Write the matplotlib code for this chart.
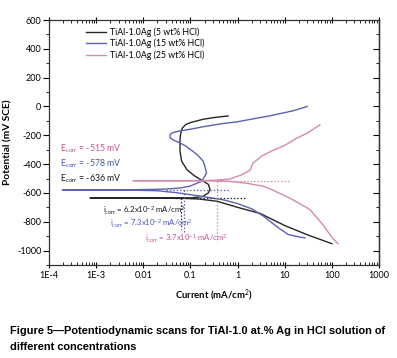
import matplotlib
matplotlib.use("Agg")
import matplotlib.pyplot as plt
from matplotlib.ticker import LogLocator, MultipleLocator, FixedLocator, NullFormatter

# ---------------- data (current mA/cm2, potential mV SCE) ----------------
labels = ["TiAl-1.0Ag (5 wt% HCl)", "TiAl-1.0Ag (15 wt% HCl)", "TiAl-1.0Ag (25 wt% HCl)"]

i_5 = [100, 30, 10, 3.0, 1.0, 0.37, 0.15, 0.08, 0.03, 7.4e-4,
       0.03, 0.1, 0.18, 0.24, 0.26, 0.24, 0.17, 0.12, 0.085, 0.065,
       0.06, 0.06, 0.062, 0.067, 0.08, 0.1, 0.19, 0.35, 0.63]
e_5 = [-952, -890, -826, -742, -700, -658, -642, -638, -637, -636,
       -636, -635, -625, -600, -575, -540, -510, -480, -440, -380,
       -309, -230, -190, -150, -125, -112, -88, -75, -66]

i_15 = [27, 20, 12, 7.7, 5, 3.6, 2, 0.96, 0.5, 0.23, 0.1, 0.05, 0.02, 0.005, 1.9e-4,
        0.005, 0.0265, 0.06, 0.098, 0.175, 0.22, 0.2, 0.186, 0.14, 0.11, 0.08, 0.06,
        0.045, 0.037, 0.037, 0.041, 0.06, 0.1, 0.19, 0.5, 1, 5, 15, 30]
e_15 = [-912, -905, -889, -847, -800, -763, -710, -672, -648, -630, -612, -598, -585, -580, -578,
        -578, -574, -566, -553, -518, -462, -410, -379, -335, -309, -275, -253,
        -235, -218, -195, -183, -169, -158, -140, -118, -106, -64, -30, 0]

i_25 = [135, 105, 64, 34, 13, 6, 3.5, 1.5, 0.69, 0.3, 0.1, 0.0061,
        0.05, 0.2, 0.37, 0.69, 1.2, 1.85, 2.0, 2.1, 2.6, 3.2, 6, 10, 18, 30, 56]
e_25 = [-952, -917, -819, -714, -637, -585, -553, -532, -520, -516, -515, -515,
        -515, -514, -511, -503, -475, -441, -413, -395, -370, -345, -300, -270, -220, -185, -127]

e_corr = [-636, -578, -515]
i_corr = [0.062, 0.073, 0.37]
h_dot_end = [1.45, 0.7, 13]
h_dot_start = [0.05, 0.03, 0.3]
v_dot_end = [-850, -870, -940]

ecorr_text = ["E$_{corr}$ = -636 mV", "E$_{corr}$ = -578 mV", "E$_{corr}$ = -515 mV"]
icorr_text = ["i$_{corr}$ = 6.2x10$^{-2}$ mA/cm$^{2}$",
              "i$_{corr}$ = 7.3x10$^{-2}$ mA/cm$^{2}$",
              "i$_{corr}$ = 3.7x10$^{-1}$ mA/cm$^{2}$"]

xticks = [1e-4, 1e-3, 1e-2, 1e-1, 1, 10, 100, 1000]
xticklabels = ["1E-4", "1E-3", "0.01", "0.1", "1", "10", "100", "1000"]
yticks = [600, 400, 200, 0, -200, -400, -600, -800, -1000]

colors = ["#262626", "#5a63b4", "#d48aac"]
text_colors = ["#1a1a1a", "#4656b4", "#c8548e"]

plt.rcParams['font.family'] = ['Lato', 'DejaVu Sans']
plt.rcParams['mathtext.fontset'] = 'custom'
plt.rcParams['mathtext.rm'] = 'Lato'
plt.rcParams['mathtext.it'] = 'Lato'

W, H = 397, 358
fig = plt.figure(figsize=(W / 100, H / 100), dpi=100)
ax = fig.add_axes([49 / W, 1 - 265 / H, (379 - 49) / W, (265 - 20) / H])

series = [(i_5, e_5), (i_15, e_15), (i_25, e_25)]
for (xs, ys), c, lab in zip(series, colors, labels):
    ax.plot(xs, ys, color=c, lw=1.0, label=lab)

for k in range(3):
    ax.plot([h_dot_start[k], h_dot_end[k]], [e_corr[k], e_corr[k]], color=colors[k],
            lw=0.9, ls=(0, (1.2, 1.5)))
    ax.plot([i_corr[k], i_corr[k]], [e_corr[k], v_dot_end[k]], color=colors[k],
            lw=0.9, ls=(0, (1.2, 1.5)))

ax.set_xscale('log')
ax.set_xlim(1e-4, 1000)
ax.set_ylim(-1100, 600)
ax.xaxis.set_major_locator(FixedLocator(xticks))
ax.set_xticklabels(xticklabels)
ax.xaxis.set_minor_locator(LogLocator(base=10, subs=range(2, 10), numticks=20))
ax.xaxis.set_minor_formatter(NullFormatter())
ax.set_yticks(yticks)
ax.set_yticklabels([str(v) for v in yticks])
ax.yaxis.set_minor_locator(MultipleLocator(100))

ax.tick_params(axis='x', which='major', direction='inout', length=5, width=0.8,
               labelsize=6.5, top=True, pad=2)
ax.tick_params(axis='x', which='minor', direction='in', length=2.5, width=0.6, top=True)
ax.tick_params(axis='y', which='major', direction='out', length=4, width=0.8,
               labelsize=6.5, right=False, pad=1.5)
ax.tick_params(axis='y', which='minor', direction='out', length=2.5, width=0.6, right=False)
for s in ax.spines.values():
    s.set_linewidth(0.9)
    s.set_color('#333333')

# right axis inward ticks
axr = ax.secondary_yaxis('right')
axr.set_yticks(yticks)
axr.yaxis.set_minor_locator(MultipleLocator(100))
axr.tick_params(which='major', direction='in', length=4, width=0.8, labelright=False)
axr.tick_params(which='minor', direction='in', length=2.5, width=0.6)
axr.spines['right'].set_linewidth(0.9)

leg = ax.legend(loc='upper left', bbox_to_anchor=(0.1, 0.985), frameon=False,
                fontsize=6.3, handlelength=2.3, handletextpad=0.45, labelspacing=0.25,
                borderaxespad=0)

ax.set_xlabel("Current (mA/cm$^{2}$)", fontsize=6.8, fontweight='bold', labelpad=5)
ax.set_ylabel("Potential (mV SCE)", fontsize=7.3, fontweight='bold')
ax.yaxis.set_label_coords((12 - 49) / 330, 0.5)

# Ecorr labels
ecorr_y = [179, 164, 149]
for k in range(3):
    fig.text(60 / W, 1 - ecorr_y[k] / H, ecorr_text[k], color=text_colors[k],
             fontsize=6.3, va='center', ha='left')
icorr_xy = [(103, 211), (110, 224), (145, 239)]
for k in range(3):
    fig.text(icorr_xy[k][0] / W, 1 - icorr_xy[k][1] / H, icorr_text[k], color=text_colors[k],
             fontsize=5.6, va='center', ha='left')

fig.text(10 / W, 1 - 331 / H,
         "Figure 5\u2014Potentiodynamic scans for TiAl-1.0 at.% Ag in HCl solution of",
         fontsize=7.9, fontweight='bold', family='Liberation Sans', va='center', ha='left')
fig.text(10 / W, 1 - 347 / H, "different concentrations",
         fontsize=7.9, fontweight='bold', family='Liberation Sans', va='center', ha='left')

fig.savefig("out.png", dpi=100)
